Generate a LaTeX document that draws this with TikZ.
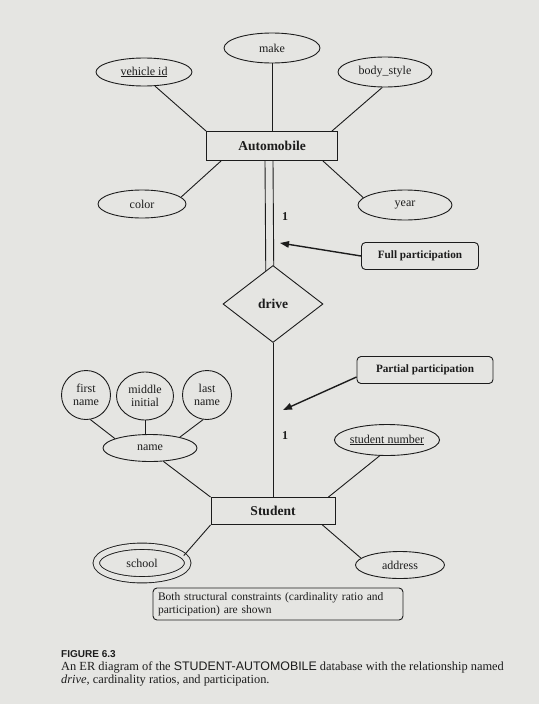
\documentclass[tikz,border=0pt]{standalone}
\usepackage{fontspec}
\setmainfont{Liberation Serif}
\setsansfont{Liberation Sans}
\usepackage{tikz}
\usetikzlibrary{shapes.geometric,arrows.meta,backgrounds}

\definecolor{pagebg}{RGB}{229,229,226}
\definecolor{ink}{RGB}{28,28,28}

\tikzset{
  attr/.style={ellipse, draw=ink, fill=pagebg, line width=0.9pt, inner sep=0pt,
    align=center, text=ink, font=\fontsize{12}{13.5}\selectfont},
  entity/.style={rectangle, draw=ink, fill=pagebg, line width=0.9pt, inner sep=0pt,
    text=ink, font=\fontsize{13.5}{15}\selectfont\bfseries},
  relship/.style={diamond, draw=ink, fill=pagebg, line width=0.9pt, inner sep=0pt,
    minimum width=100pt, minimum height=77pt, text=ink,
    font=\fontsize{13.5}{15}\selectfont\bfseries},
  callout/.style={rectangle, rounded corners=4pt, draw=ink, fill=pagebg, line width=0.9pt,
    inner sep=0pt, text=ink, font=\fontsize{11.2}{13}\selectfont\bfseries},
  card/.style={inner sep=0pt, text=ink, font=\fontsize{12}{13}\selectfont\bfseries},
  link/.style={draw=ink, line width=0.9pt},
  pointer/.style={draw=ink, line width=1.4pt, -{Triangle[length=9pt,width=6.5pt]}}
}

\begin{document}
\begin{tikzpicture}[x=1pt,y=-1pt]
\useasboundingbox (0,0) rectangle (539,704);
\begin{scope}[on background layer]
  \fill[pagebg] (0,0) rectangle (539,704);
\end{scope}

% Automobile and its attributes
\node[attr, minimum width=96pt, minimum height=30pt] (make) at (272,48) {make};
\node[attr, minimum width=96pt, minimum height=28pt] (vid) at (144,72) {\underline{vehicle id}};
\node[attr, minimum width=94pt, minimum height=30pt] (body) at (385,72) {body\_style};
\node[entity, minimum width=131pt, minimum height=29pt] (auto) at (272,146) {Automobile};
\node[attr, minimum width=88pt, minimum height=28pt] (color) at (142,204) {color};
\node[attr, minimum width=94pt, minimum height=30pt] (year) at (405,205) {year};

% relationship
\node[relship] (drive) at (273,304) {drive};
\node[card] (card1) at (285,217) {1};
\node[card] (card2) at (285,436) {1};

% callouts
\node[callout, minimum width=117pt, minimum height=27pt] (full) at (420,256) {Full participation};
\node[callout, minimum width=136pt, minimum height=27pt] (partial) at (425,370) {Partial participation};
\coordinate (fulltip) at (280,243);
\coordinate (partialtip) at (283,410);

% Student and its attributes
\node[attr, circle, minimum size=49pt] (first) at (86,395) {first\\name};
\node[attr, minimum width=57pt, minimum height=48pt] (middle) at (145,396) {middle\\initial};
\node[attr, circle, minimum size=49pt] (last) at (207,395) {last\\name};
\node[attr, minimum width=94pt, minimum height=27pt] (name) at (150,448) {name};
\node[attr, minimum width=105pt, minimum height=31pt] (sno) at (387,440) {\underline{student number}};
\node[entity, minimum width=124pt, minimum height=27pt] (student) at (273,511) {Student};
\node[attr, double=pagebg, double distance=5.4pt, minimum width=91.5pt, minimum height=33.5pt] (school) at (142,563) {school};
\node[attr, minimum width=89pt, minimum height=27pt] (addr) at (400,565) {address};

\node[callout, font=\fontsize{11.5}{12.5}\selectfont, align=left, minimum width=250pt,
  minimum height=32pt, text width=240pt] (both) at (278,604)
  {Both structural constraints (cardinality ratio and\\participation) are shown};

% caption
\node[anchor=north west, inner sep=0pt, align=left, text=ink,
  font=\fontsize{12.4}{13.2}\selectfont] (caption) at (61,650)
  {{\sffamily\bfseries\fontsize{10}{11}\selectfont FIGURE 6.3}\\
   An ER diagram of the {\sffamily STUDENT-AUTOMOBILE} database with the relationship named\\
   \textit{drive}, cardinality ratios, and participation.};

% connectors
\draw[link] (vid.-52) -- (auto.north west);
\draw[link] (make) -- (auto);
\draw[link] (body.-100) -- ([xshift=-6pt]auto.north east);
\draw[link] (color.10) -- ([xshift=15pt]auto.south west);
\draw[link] (year.170) -- ([xshift=-15pt]auto.south east);
\begin{scope}[on background layer]
  \draw[link] ([xshift=-7pt]auto.south) -- ([xshift=-7pt]drive.center);
  \draw[link] ([xshift=1pt]auto.south) -- ([xshift=1pt]drive.center);
\end{scope}
\draw[link] (drive) -- (student);
\draw[pointer] (full.west) -- (fulltip);
\draw[pointer] ([yshift=-7pt]partial.west) -- (partialtip);
\draw[link] (first.-80) -- (name.165);
\draw[link] (middle.south) -- (middle.south |- name.north);
\draw[link] (last.-99) -- (name.20);
\draw[link] (name.-45) -- (student.north west);
\draw[link] (sno.-115) -- ([xshift=-7pt]student.north east);
\draw[link] (school.10) -- (student.south west);
\draw[link] ([xshift=-13pt]student.south east) -- (addr.170);
\end{tikzpicture}
\end{document}
